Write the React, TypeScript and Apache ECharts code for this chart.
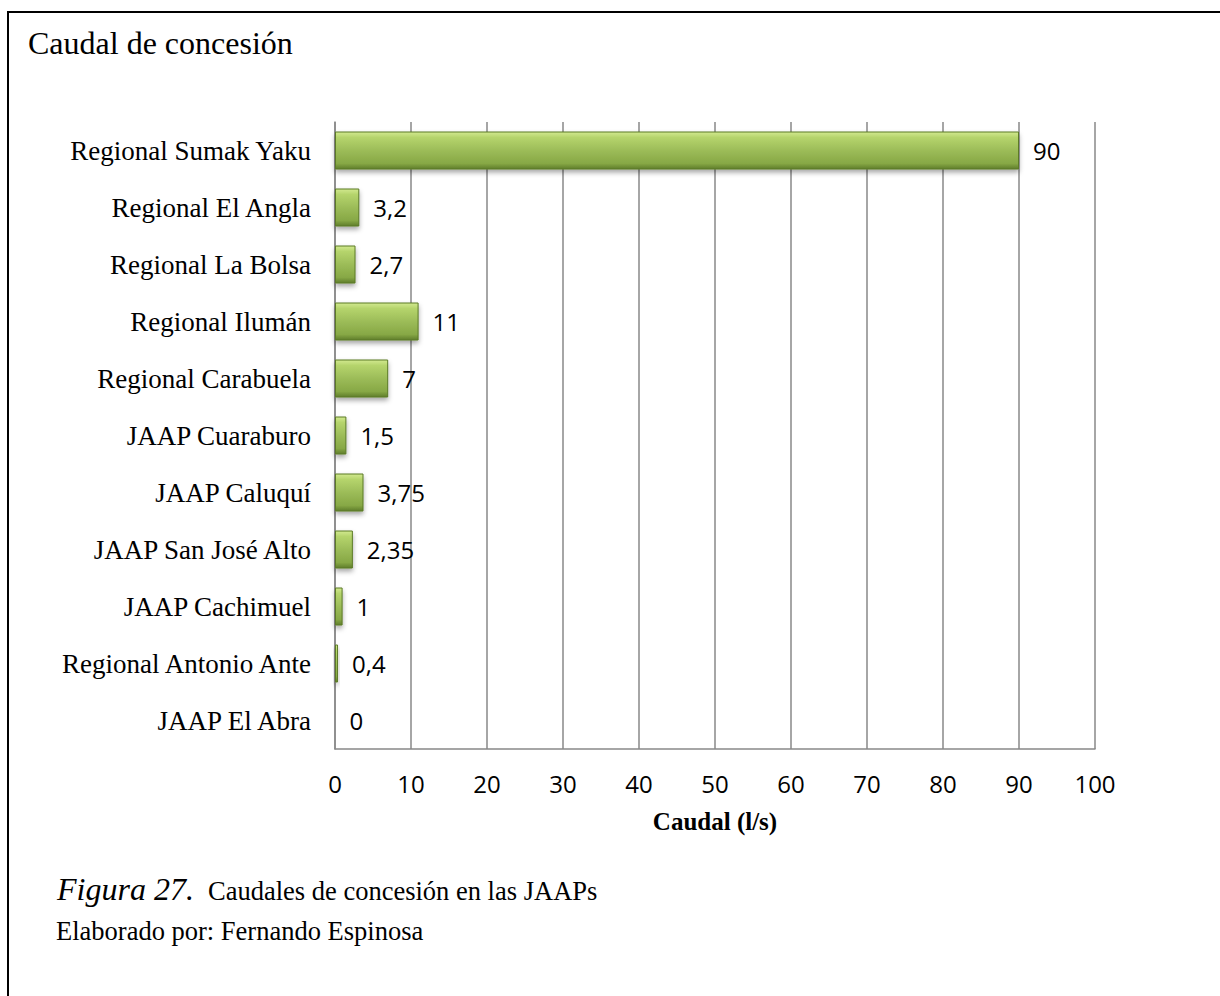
import React, { useEffect, useRef } from "react";
import * as echarts from "echarts";

const categories = [
  "Regional Sumak Yaku",
  "Regional El Angla",
  "Regional La Bolsa",
  "Regional Ilumán",
  "Regional Carabuela",
  "JAAP Cuaraburo",
  "JAAP Caluquí",
  "JAAP San José Alto",
  "JAAP Cachimuel",
  "Regional Antonio Ante",
  "JAAP El Abra",
];
const caudales = [90, 3.2, 2.7, 11, 7, 1.5, 3.75, 2.35, 1, 0.4, 0];
const xMin = 0;
const xMax = 100;
const xInterval = 10;

const titleText = "Caudal de concesión";
const axisName = "Caudal (l/s)";
const figLabel = "Figura 27.";
const figCaption = "Caudales de concesión en las JAAPs";
const authorText = "Elaborado por: Fernando Espinosa";

const SERIF = "'Liberation Serif', 'Times New Roman', serif";
const SANS = "'Open Sans', 'Noto Sans', sans-serif";

export default function App() {
  const ref = useRef<HTMLDivElement>(null);
  useEffect(() => {
    if (!ref.current) return;
    const chart = echarts.init(ref.current, null, { renderer: "svg" });
    chart.setOption({
      animation: false,
      backgroundColor: "#ffffff",
      title: {
        text: titleText,
        left: 28,
        top: 27,
        padding: 0,
        textStyle: { fontFamily: SERIF, fontSize: 32, fontWeight: "normal", color: "#000" },
      },
      grid: { left: 335, right: 125, top: 122, bottom: 247, containLabel: false },
      xAxis: {
        type: "value",
        min: xMin,
        max: xMax,
        interval: xInterval,
        name: axisName,
        nameLocation: "middle",
        nameGap: 60,
        nameTextStyle: { fontFamily: SERIF, fontSize: 25, fontWeight: "bold", color: "#000" },
        axisLine: { show: true, lineStyle: { color: "#888", width: 1.5 } },
        axisTick: { show: false },
        axisLabel: { fontFamily: SANS, fontSize: 24, color: "#000", margin: 22 },
        splitLine: { show: true, lineStyle: { color: "#888", width: 1.5 } },
      },
      yAxis: {
        type: "category",
        data: categories,
        inverse: true,
        axisLine: { show: true, lineStyle: { color: "#888", width: 1.5 } },
        axisTick: { show: false },
        axisLabel: { fontFamily: SERIF, fontSize: 27, color: "#000", margin: 24 },
        splitLine: { show: false },
      },
      series: [
        {
          type: "bar",
          data: caudales,
          barWidth: 38,
          itemStyle: {
            color: new echarts.graphic.LinearGradient(0, 0, 0, 1, [
              { offset: 0, color: "#d2e98f" },
              { offset: 0.15, color: "#b5d46c" },
              { offset: 0.5, color: "#9cbc58" },
              { offset: 0.85, color: "#87a845" },
              { offset: 1, color: "#5f7d2b" },
            ]),
            borderColor: "#5b7a26",
            borderWidth: 1,
            shadowColor: "rgba(0,0,0,0.35)",
            shadowBlur: 5,
            shadowOffsetY: 3,
          },
          label: {
            show: true,
            position: "right",
            distance: 14,
            fontFamily: SANS,
            fontSize: 24,
            color: "#000",
            formatter: (p: any) => String(p.value).replace(".", ","),
          },
        },
      ],
      graphic: [
        {
          type: "line",
          shape: { x1: 8, y1: 12, x2: 1220, y2: 12 },
          style: { stroke: "#000", lineWidth: 2 },
        },
        {
          type: "line",
          shape: { x1: 8, y1: 11, x2: 8, y2: 996 },
          style: { stroke: "#000", lineWidth: 2 },
        },
        {
          type: "text",
          x: 57,
          y: 889,
          style: {
            text: figLabel,
            fontFamily: SERIF,
            fontStyle: "italic",
            fontSize: 32,
            fill: "#000",
            verticalAlign: "middle",
            align: "left",
          },
        },
        {
          type: "text",
          x: 208,
          y: 891,
          style: {
            text: figCaption,
            fontFamily: SERIF,
            fontSize: 26.5,
            fill: "#000",
            verticalAlign: "middle",
            align: "left",
          },
        },
        {
          type: "text",
          x: 56,
          y: 931,
          style: {
            text: authorText,
            fontFamily: SERIF,
            fontSize: 26.5,
            fill: "#000",
            verticalAlign: "middle",
            align: "left",
          },
        },
      ],
    });
    return () => chart.dispose();
  }, []);
  return (
    <div
      ref={ref}
      style={{ position: "absolute", left: 0, top: 0, width: 1220, height: 996 }}
    />
  );
}
